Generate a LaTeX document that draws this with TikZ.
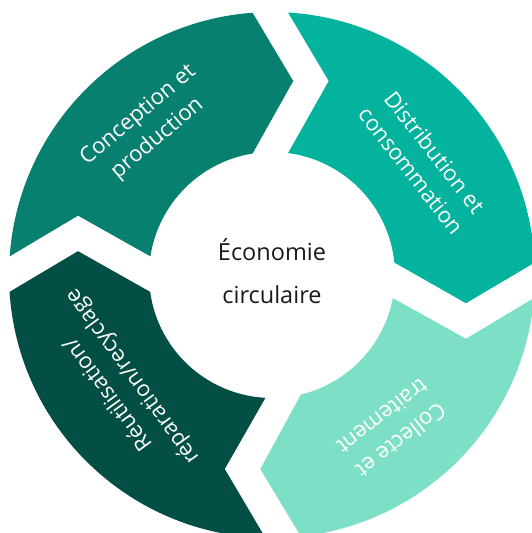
\documentclass[tikz,border=0pt]{standalone}
\usepackage{fontspec}
\setmainfont{Open Sans}
\definecolor{vertConception}{HTML}{08806F}
\definecolor{vertDistribution}{HTML}{04B39D}
\definecolor{vertCollecte}{HTML}{7CDFC6}
\definecolor{vertReutilisation}{HTML}{034F45}

\begin{document}
\begin{tikzpicture}[x=1pt, y=1pt]
  \tikzset{etape/.style={text=white, align=center, font=\fontsize{22}{30}\selectfont}}
  \useasboundingbox (-272pt,-258pt) rectangle (260pt,275pt);
  \clip (-272pt,-258pt) rectangle (260pt,275pt);
  % anneau : quatre fleches, gap at angle \pa / \pb, tangential shift \ca / \cb
  \foreach \pa/\ca/\pb/\cb/\col in {180/0.9/90/-1.7/vertConception, 90/-1.7/0/5.3/vertDistribution, 0/5.3/-90/-11.2/vertCollecte, -90/-11.2/-180/0.9/vertReutilisation}
    \fill[\col] ({\pa-asin((\ca+17.75)/263)}:263pt)
      -- ({\pa-atan((\ca+58.45)/194)}:{veclen(\ca+58.45,194)})
      -- ({\pa-asin((\ca+17.75)/123)}:123pt)
      arc[start angle={\pa-asin((\ca+17.75)/123)}, end angle={\pb-asin((\cb-17.75)/123)}, radius=123pt]
      -- ({\pb-atan((\cb+22.95)/194)}:{veclen(\cb+22.95,194)})
      -- ({\pb-asin((\cb-17.75)/263)}:263pt)
      arc[start angle={\pb-asin((\cb-17.75)/263)}, end angle={\pa-asin((\ca+17.75)/263)}, radius=263pt]
      -- cycle;
  \node[etape, rotate=40] (conception) at (130:193pt) {Conception et\\production};
  \node[etape, rotate=-52] (distribution) at (37:189pt) {Distribution et\\consommation};
  \node[etape, rotate=-142] (collecte) at (-52:195pt) {Collecte et\\traitement};
  \node[etape, rotate=126] (reutilisation) at (216:187pt) {Réutilisation/\\réparation/recyclage};
  \node[align=center, text=black!90, font=\fontsize{23.5}{43}\selectfont] (centre) at (0,4) {Économie\\circulaire};
\end{tikzpicture}
\end{document}
